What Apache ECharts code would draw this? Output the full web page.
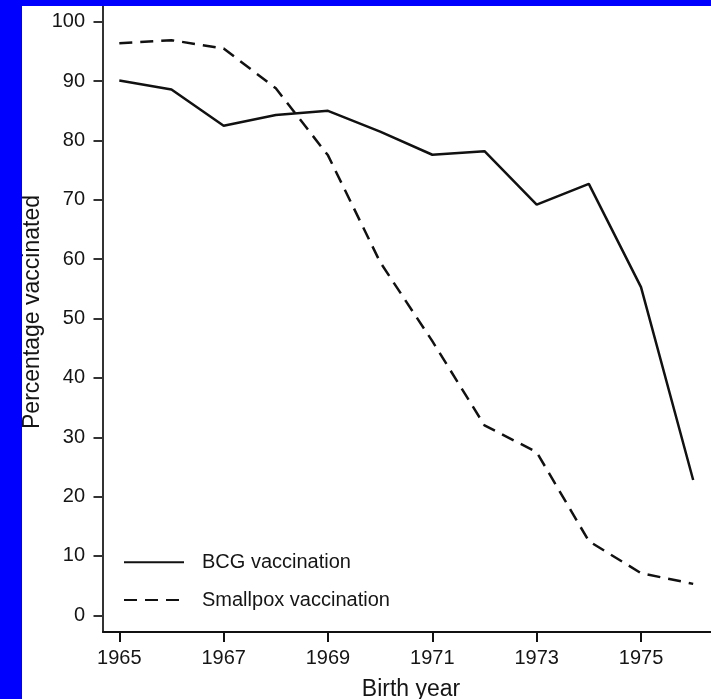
<!DOCTYPE html>
<html>
<head>
<meta charset="utf-8">
<script src="https://cdn.jsdelivr.net/npm/echarts@6/dist/echarts.min.js"></script>
<style>
html,body{margin:0;padding:0;background:#fff;}
#c{width:711px;height:699px;}
</style>
</head>
<body>
<div id="c"></div>
<script>
var years = [1965, 1966, 1967, 1968, 1969, 1970, 1971, 1972, 1973, 1974, 1975, 1976];
var bcg = [90.1, 88.6, 82.5, 84.3, 85.0, 81.5, 77.6, 78.2, 69.2, 72.7, 55.3, 22.8];
var smallpox = [96.4, 96.9, 95.5, 88.8, 77.5, 59.5, 46.2, 32.0, 27.5, 12.5, 7.1, 5.3];
var xTicks = [1965, 1967, 1969, 1971, 1973, 1975];
var yTicks = [0, 10, 20, 30, 40, 50, 60, 70, 80, 90, 100];

function pairs(vals){ return years.map(function(y,i){ return [y, vals[i]]; }); }

var FONT = '"Liberation Sans", Arial, Helvetica, sans-serif';
var chart = echarts.init(document.getElementById('c'), null, {renderer:'canvas'});
chart.setOption({
  backgroundColor: '#ffffff',
  animation: false,
  grid: {left: 103, right: -8, top: -8, bottom: 67, containLabel: false, outerBoundsMode: 'none'},
  xAxis: {
    type: 'value',
    min: 1964.6875, max: 1976.495,
    name: 'Birth year', nameLocation: 'middle', nameGap: 46, nameMoveOverlap: false,
    nameTextStyle: {fontFamily: FONT, fontSize: 23, color: '#151515'},
    splitLine: {show: false},
    axisLine: {show: true, onZero: false, lineStyle: {color: '#111', width: 2}},
    axisTick: {show: true, length: 10, customValues: xTicks, lineStyle: {color: '#111', width: 2}},
    axisLabel: {customValues: xTicks, margin: 16, fontFamily: FONT, fontSize: 20, color: '#151515',
      formatter: function(v){ return String(v); }}
  },
  yAxis: {
    type: 'value',
    min: -2.81, max: 105.02,
    name: 'Percentage vaccinated', nameLocation: 'middle', nameGap: 59, nameRotate: 90, nameMoveOverlap: false,
    nameTextStyle: {fontFamily: FONT, fontSize: 23, color: '#151515'},
    splitLine: {show: false},
    axisLine: {show: true, onZero: false, lineStyle: {color: '#333', width: 2}},
    axisTick: {show: true, length: 9.5, customValues: yTicks, lineStyle: {color: '#333', width: 2}},
    axisLabel: {customValues: yTicks, margin: 18, fontFamily: FONT, fontSize: 20, color: '#151515'}
  },
  legend: {
    orient: 'vertical', left: 123, top: 552.3, padding: 0,
    itemWidth: 60, itemHeight: 20, itemGap: 17.7,
    itemStyle: {color: 'rgba(0,0,0,0)', borderWidth: 0, opacity: 0},
    textStyle: {fontFamily: FONT, fontSize: 20, color: '#151515', padding: [0,0,0,13]},
    data: ['BCG vaccination', 'Smallpox vaccination']
  },
  series: [
    {name: 'BCG vaccination', type: 'line', data: pairs(bcg), symbol: 'none',
     lineStyle: {color: '#111', width: 2.5, type: 'solid'}, itemStyle: {color: '#111'}},
    {name: 'Smallpox vaccination', type: 'line', data: pairs(smallpox), symbol: 'none',
     lineStyle: {color: '#111', width: 2.5, type: [13, 8]}, itemStyle: {color: '#111'}}
  ],
  graphic: [
    {type: 'rect', left: 0, top: 0, z: 100, shape: {width: 22, height: 699}, style: {fill: '#0000ff'}},
    {type: 'rect', left: 0, top: 0, z: 100, shape: {width: 711, height: 6}, style: {fill: '#0000ff'}}
  ]
});
</script>
</body>
</html>
